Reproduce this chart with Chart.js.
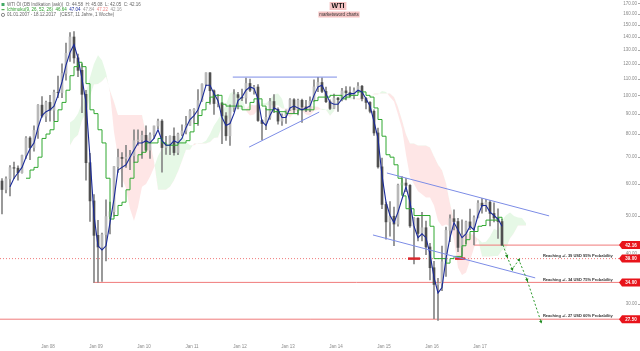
<!DOCTYPE html>
<html>
<head>
<meta charset="utf-8">
<title>WTI</title>
<script src="https://cdn.jsdelivr.net/npm/chart.js@4.4.1/dist/chart.umd.min.js"></script>
<style>
  body { margin: 0; background: #fff; }
  canvas { display: block; }
</style>
</head>
<body>
<canvas id="myChart" width="640" height="351"></canvas>
<script>
// Monthly WTI candles, Jan 2007 .. Jun 2017
const First_Year = 2007;
const OPEN = [
  61.0, 58.1, 61.8, 65.9, 65.7, 64.0, 70.7, 78.2, 74.0, 81.7, 94.5, 88.7,
  96.0, 91.8, 101.8, 101.6, 113.5, 127.4, 140.0, 124.1, 115.5, 100.6, 67.8, 54.4,
  44.6, 41.7, 44.8, 49.7, 51.1, 66.3, 69.9, 69.5, 70.0, 70.6, 77.0, 77.3,
  79.4, 72.9, 79.7, 83.8, 86.2, 74.0, 75.6, 79.0, 71.9, 80.0, 81.4, 84.1,
  91.4, 92.2, 97.0, 106.7, 113.9, 102.7, 95.4, 95.7, 88.8, 79.2, 93.2, 100.4,
  98.8, 98.5, 107.1, 103.0, 104.9, 86.5, 85.0, 88.1, 96.5, 92.2, 86.2, 88.9,
  91.8, 97.5, 92.1, 97.2, 93.5, 92.0, 96.6, 105.0, 107.7, 102.3, 96.4, 92.7,
  98.4, 97.5, 102.6, 101.6, 99.7, 102.7, 105.4, 98.2, 96.0, 91.2, 80.5, 66.2,
  53.3, 48.2, 49.8, 47.6, 59.6, 60.3, 59.5, 47.1, 49.2, 45.1, 46.6, 41.7,
  37.0, 33.6, 33.8, 38.3, 45.9, 49.1, 48.3, 41.6, 44.7, 48.2, 46.9, 49.4,
  53.7, 52.8, 54.0, 50.6, 49.3, 48.3
];
const HIGH = [
  61.9, 62.5, 66.7, 68.1, 66.6, 70.9, 78.8, 78.8, 83.9, 94.8, 99.3, 96.8,
  100.0, 103.1, 111.8, 119.9, 135.1, 143.7, 144.5, 126.8, 120.0, 103.0, 71.6, 56.4,
  48.6, 45.2, 54.7, 54.0, 66.3, 73.4, 71.9, 75.0, 72.8, 82.0, 82.0, 81.4,
  83.9, 80.5, 83.8, 87.2, 87.0, 79.0, 79.2, 82.9, 80.4, 84.4, 88.6, 92.1,
  92.6, 103.4, 106.9, 113.9, 114.0, 103.3, 100.6, 95.9, 90.5, 94.7, 103.4, 101.8,
  103.7, 110.5, 109.9, 106.0, 106.4, 86.9, 92.9, 98.3, 100.4, 93.0, 89.9, 91.8,
  98.2, 98.2, 97.9, 97.8, 97.1, 99.1, 109.3, 111.0, 110.7, 104.9, 97.5, 100.8,
  98.9, 104.2, 105.2, 105.0, 104.5, 107.7, 106.0, 98.8, 96.5, 92.0, 82.8, 69.6,
  54.0, 54.2, 52.5, 59.9, 62.6, 62.0, 59.8, 49.4, 49.4, 50.9, 48.4, 42.6,
  38.4, 34.8, 41.9, 46.8, 50.2, 51.7, 49.2, 48.8, 48.4, 51.9, 49.9, 54.5,
  55.2, 54.9, 54.6, 53.8, 52.0, 48.9
];
const LOW = [
  50.5, 57.0, 56.0, 61.8, 61.3, 63.8, 69.5, 69.0, 72.5, 78.0, 88.0, 85.9,
  86.1, 86.1, 98.7, 98.7, 109.1, 121.6, 120.4, 111.3, 90.5, 61.3, 48.3, 34.0,
  34.0, 34.2, 38.5, 45.0, 49.8, 64.1, 59.0, 66.0, 65.1, 67.9, 75.0, 69.5,
  72.4, 69.5, 78.0, 82.5, 64.2, 71.1, 71.0, 70.8, 71.0, 79.2, 80.0, 84.1,
  85.1, 84.1, 96.5, 105.8, 95.0, 89.6, 93.6, 75.7, 77.1, 74.95, 91.0, 92.5,
  97.0, 95.4, 102.2, 100.7, 86.0, 77.3, 82.0, 87.0, 90.5, 84.7, 84.1, 85.0,
  91.5, 90.0, 89.3, 85.6, 91.0, 91.0, 96.5, 102.2, 101.5, 95.9, 92.1, 92.6,
  91.2, 96.8, 97.4, 98.9, 98.0, 101.7, 96.9, 92.5, 90.4, 79.4, 65.7, 52.0,
  43.6, 44.4, 42.0, 47.0, 56.5, 57.4, 46.7, 37.8, 43.2, 43.2, 39.9, 34.5,
  27.6, 27.3, 32.4, 35.2, 43.0, 46.0, 40.6, 39.2, 42.5, 46.1, 42.2, 49.3,
  50.7, 51.2, 47.1, 48.2, 43.8, 42.05
];
const CLOSE = [
  58.1, 61.8, 65.9, 65.7, 64.0, 70.7, 78.2, 74.0, 81.7, 94.5, 88.7, 96.0,
  91.8, 101.8, 101.6, 113.5, 127.4, 140.0, 124.1, 115.5, 100.6, 67.8, 54.4, 44.6,
  41.7, 44.8, 49.7, 51.1, 66.3, 69.9, 69.5, 70.0, 70.6, 77.0, 77.3, 79.4,
  72.9, 79.7, 83.8, 86.2, 74.0, 75.6, 79.0, 71.9, 80.0, 81.4, 84.1, 91.4,
  92.2, 97.0, 106.7, 113.9, 102.7, 95.4, 95.7, 88.8, 79.2, 93.2, 100.4, 98.8,
  98.5, 107.1, 103.0, 104.9, 86.5, 85.0, 88.1, 96.5, 92.2, 86.2, 88.9, 91.8,
  97.5, 92.1, 97.2, 93.5, 92.0, 96.6, 105.0, 107.7, 102.3, 96.4, 92.7, 98.4,
  97.5, 102.6, 101.6, 99.7, 102.7, 105.4, 98.2, 96.0, 91.2, 80.5, 66.2, 53.3,
  48.2, 49.8, 47.6, 59.6, 60.3, 59.5, 47.1, 49.2, 45.1, 46.6, 41.7, 37.0,
  33.6, 33.8, 38.3, 45.9, 49.1, 48.3, 41.6, 44.7, 48.2, 46.9, 49.4, 53.7,
  52.8, 54.0, 50.6, 49.3, 48.3, 42.16
];

// Ichimoku (9, 26, 52, 26) - blue tenkan from Mar 2007, green kijun from Jul 2007
const TENKAN_START = 2007 + 2 / 12;
const TENKAN = [
  59, 62, 64, 66, 70, 73.5, 76, 83, 89, 91,
  92, 94, 100, 108, 119, 128, 134, 124, 110, 96, 70, 50,
  42, 41, 42, 48, 55, 65, 66, 67, 70, 73, 76, 76,
  77, 76, 78, 82, 77, 75, 75, 77, 76, 78, 83, 87,
  89, 92, 98, 106, 106, 101, 97, 88, 84, 85, 90, 97,
  99, 103, 105, 104, 98, 86, 84, 89, 93, 92, 88, 88,
  93, 94, 93, 92, 93, 94, 100, 105, 106, 101, 96, 95,
  95, 98, 100, 101, 101, 103, 102, 98, 94, 86, 78, 63,
  54, 50, 48, 51, 55, 59, 54, 47, 44, 45, 44, 40,
  35, 32, 33, 39, 44, 48, 46, 44, 45, 47, 46, 50,
  53, 53, 51, 50, 49, 47
];
const KIJUN_START = 2007 + 6 / 12;
const KIJUN = [
  62, 65, 66, 70, 78, 80,
  82, 86, 92, 96, 103, 112, 118, 121, 118, 107, 92, 90,
  82, 76, 62, 49, 50, 53, 54, 58, 62, 68, 71, 72,
  76, 76, 76, 78, 76, 75, 75, 75, 76, 76, 77, 81,
  85, 89, 92, 96, 99, 100, 100, 95, 94, 94, 94, 94,
  92, 92, 96, 98, 98, 94, 92, 92, 91, 91, 91, 90,
  90, 90, 92, 92, 92, 92, 97, 99, 99, 99, 100, 100,
  100, 98, 99, 100, 100, 102, 102, 100, 99, 93, 87, 79,
  71, 70, 67, 62, 56, 52, 52, 50, 50, 50, 50, 47,
  39, 39, 39, 38, 39, 39.5, 39.5, 42, 43.5, 45.6, 45.6, 47,
  47.2, 48.7, 48.7, 48.7, 49.5, 48.6
];
// cloud, Jun 2008 .. Dec 2017
const CLOUD_START = 2008 + 5 / 12;
const SENKOU_A = [
  85.5, 87, 90, 96, 102, 111, 120,
  126, 122.5, 114, 101.5, 81, 70, 62, 58.5, 52, 48.5, 52.5, 59,
  60, 62.5, 66, 70.5, 73.5, 74, 76.5, 76, 77, 80, 76.5, 75,
  75, 76, 76, 77, 80, 84, 87, 90.5, 95, 101, 102.5, 100.5,
  98.5, 91.5, 89, 89.5, 92, 95.5, 95.5, 97.5, 100.5, 101, 98, 90,
  88, 90.5, 92, 91.5, 89.5, 89, 91.5, 92, 92.5, 92, 92.5, 93,
  98.5, 102, 102.5, 100, 98, 97.5, 97.5, 98, 99.5, 100.5, 100.5, 102.5,
  102, 99, 96.5, 89.5, 82.5, 71, 62.5, 60, 57.5, 56.5, 55.5, 55.5,
  53, 48.5, 47, 47.5, 47, 43.5, 37, 35.5, 36, 38.5, 41.5, 43.8,
  42.8, 43, 44.3, 46.3, 45.8, 48.5, 50.1, 50.9, 49.9, 49.4, 49.3, 47.8
];
const SENKOU_B = [
  74.9, 78, 79.5, 86.5, 90.6, 99.4, 106.4,
  106.8, 108.5, 111.3, 102.9, 96.4, 89.3, 89.3, 89.3, 89.3, 89.3, 89.3, 89.3,
  80.4, 77, 68.5, 58, 58, 58, 59, 61.2, 64.5, 68.5, 73.1, 73.1,
  75.7, 75.7, 75.7, 75.7, 76.4, 78.2, 78.4, 83.8, 85.6, 89, 92.4, 92.4,
  92.4, 92.5, 94.9, 94.5, 94.5, 94.5, 94.5, 94.5, 94.5, 94.5, 92.7, 92.7,
  92.7, 92.7, 92.7, 93.9, 93.9, 93.9, 93.9, 93.6, 91.9, 91.9, 88.9, 91.2,
  96.7, 97.6, 97.9, 97.6, 98, 98.3, 98.3, 98.3, 98.3, 101, 101, 101,
  101.1, 101, 99, 93.5, 86.7, 79.9, 75.7, 75.7, 74.9, 74.9, 74.9, 74,
  70.4, 67.1, 64.9, 60.3, 53.7, 48.6, 45.1, 45, 45, 45, 44.7, 43.6,
  39.5, 39.5, 39.5, 39.6, 39.6, 40.9, 41.3, 43.8, 45.2, 47.2, 47.2, 47.2
];

// drawn analysis: trend lines (year, price)
const TREND_TOP = [[2011.85, 111.1], [2014.02, 111.1]];
const TREND_UP = [[2012.19, 74.2], [2013.65, 90.8]];
const CHANNEL_TOP = [[2015.06, 63.9], [2018.44, 49.9]];
const CHANNEL_BOTTOM = [[2014.77, 44.7], [2018.15, 34.9]];
const LOW_MARKS = [[2015.5, 2015.75], [2016.48, 2016.69]];   // short red bars at 39

// horizontal levels with their price tags
const LEVEL_PRICE = [42.16, 39, 34, 27.5];
const LEVEL_FROM = [2016.88, 2007, 2008.94, 2007];
const LEVEL_TAG = ['42.16', '39.00', '34.00', '27.50'];
const LEVEL_END = 2019.92;

// projected path
const PROJ_X = [2017.48, 2017.56, 2017.67, 2017.81, 2017.98, 2018.27];
const PROJ_Y = [42.2, 39.6, 36.7, 38.7, 34.5, 27.1];

const TARGET_PRICE = [39, 34, 27.5];
const TARGET_TEXT = [
  'Reaching +/- 39 USD 95% Probability',
  'Reaching +/- 34 USD 75% Probability',
  'Reaching +/- 27 USD 60% Probability'
];
const TARGET_X = 2018.31;

const X_TICKS = [2008, 2009, 2010, 2011, 2012, 2013, 2014, 2015, 2016, 2017];
const Y_TICKS = [30, 40, 50, 60, 70, 80, 90, 100, 110, 120, 130, 140, 150, 160, 170];


function monthX(start, i) {
    return start + (i + 0.5) / 12;
}

function series(start, values) {
    return values.map((v, i) => ({ x: monthX(start, i), y: v }));
}

function pair(points) {
    return points.map(p => ({ x: p[0], y: p[1] }));
}

const TINY = '4.5px "Liberation Sans", Arial, sans-serif';

// overlays: header, title, price tags, target texts
const overlay = {
    id: 'overlay',
    afterDraw(chart) {
        const ctx = chart.ctx;
        const xs = chart.scales.x;
        const ys = chart.scales.y;
        const right = chart.chartArea.right;
        ctx.save();

        // small tick dashes on the price axis
        ctx.strokeStyle = '#aaa';
        ctx.lineWidth = 1;
        ys.ticks.forEach(t => {
            const py = Math.round(ys.getPixelForValue(t.value)) + 0.5;
            ctx.beginPath();
            ctx.moveTo(right - 2, py);
            ctx.lineTo(right, py);
            ctx.stroke();
        });

        // target texts
        ctx.font = 'bold 4px "Liberation Sans", Arial, sans-serif';
        ctx.fillStyle = '#333';
        ctx.textAlign = 'left';
        ctx.textBaseline = 'bottom';
        TARGET_TEXT.forEach((t, i) => {
            ctx.fillText(t, xs.getPixelForValue(TARGET_X), ys.getPixelForValue(TARGET_PRICE[i]) - 1);
        });

        // red price tags
        LEVEL_PRICE.forEach((p, i) => {
            const py = ys.getPixelForValue(p);
            ctx.fillStyle = '#e8141b';
            ctx.beginPath();
            ctx.moveTo(right - 21, py);
            ctx.lineTo(right - 18, py - 4);
            ctx.lineTo(right, py - 4);
            ctx.lineTo(right, py + 4);
            ctx.lineTo(right - 18, py + 4);
            ctx.closePath();
            ctx.fill();
            ctx.fillStyle = '#fff';
            ctx.font = 'bold ' + TINY;
            ctx.textAlign = 'center';
            ctx.textBaseline = 'middle';
            ctx.fillText(LEVEL_TAG[i], right - 9, py + 0.5);
        });

        // title
        ctx.textAlign = 'center';
        ctx.textBaseline = 'middle';
        ctx.font = 'bold 7px "Liberation Sans", Arial, sans-serif';
        let w = ctx.measureText('WTI').width;
        ctx.fillStyle = '#f6c4c4';
        ctx.fillRect(338 - w / 2 - 2, 2, w + 4, 8);
        ctx.fillStyle = '#111';
        ctx.fillText('WTI', 338, 6.5);
        ctx.font = TINY;
        w = ctx.measureText('marketsword charts').width;
        ctx.fillStyle = '#f6c4c4';
        ctx.fillRect(339 - w / 2 - 1, 11.5, w + 2, 6);
        ctx.fillStyle = '#333';
        ctx.fillText('marketsword charts', 339, 14.7);

        // header lines
        ctx.textAlign = 'left';
        ctx.font = TINY;
        ctx.fillStyle = '#666';
        ctx.fillText('WTI Öl (DB Indikation (ask))  O: 44.58  H: 45.08  L: 42.05  C: 42.16', 7, 4.5);
        let x = 7;
        const parts = [['Ichimoku(9, 26, 52, 26)  46.64', '#2ca02c'], ['47.04', '#1a2a9a'],
                       ['47.84', '#999'], ['47.22', '#e88'], ['42.16', '#999']];
        parts.forEach(p => {
            ctx.fillStyle = p[1];
            ctx.fillText(p[0], x, 9.7);
            x += ctx.measureText(p[0] + '  ').width;
        });
        ctx.fillStyle = '#666';
        ctx.fillText('01.01.2007 - 18.12.2017   (CEST, 11 Jahre, 1 Woche)', 7, 14.9);

        // header icons
        ctx.fillStyle = '#4a6';
        ctx.fillRect(1.5, 3, 3, 3);
        ctx.strokeStyle = '#2ca02c';
        ctx.beginPath();
        ctx.moveTo(1.5, 9.7);
        ctx.lineTo(4.5, 9.7);
        ctx.stroke();
        ctx.strokeStyle = '#888';
        ctx.beginPath();
        ctx.arc(3, 14.9, 1.6, 0, Math.PI * 2);
        ctx.stroke();
        ctx.restore();
    }
};

const datasets = [];

// projection (top)
datasets.push({
    type: 'line',
    data: PROJ_X.map((x, i) => ({ x: x, y: PROJ_Y[i] })),
    borderColor: '#2f9a2f',
    borderWidth: 1,
    borderDash: [2, 2],
    pointStyle: 'triangle',
    pointRadius: [0, 2, 2, 2, 2, 2],
    pointRotation: [0, 163, 159, 38, 160, 161],
    pointBackgroundColor: '#1f8a1f',
    pointBorderWidth: 0,
    order: 1
});

// blue trend lines
[TREND_TOP, TREND_UP, CHANNEL_TOP, CHANNEL_BOTTOM].forEach(l => {
    datasets.push({
        type: 'line',
        data: pair(l),
        borderColor: '#7c8ce6',
        borderWidth: 1,
        pointRadius: 0,
        order: 2
    });
});

// short red bars at the 39 level
LOW_MARKS.forEach(m => {
    datasets.push({
        type: 'line',
        data: [{ x: m[0], y: 39 }, { x: m[1], y: 39 }],
        borderColor: '#d9262b',
        borderWidth: 2.5,
        pointRadius: 0,
        order: 2
    });
});

datasets.push({
    type: 'line',
    data: series(TENKAN_START, TENKAN),
    borderColor: '#1a2a9a',
    borderWidth: 1.1,
    pointRadius: 0,
    tension: 0,
    order: 3
});

datasets.push({
    type: 'line',
    data: series(KIJUN_START, KIJUN),
    borderColor: '#30a830',
    borderWidth: 1,
    pointRadius: 0,
    stepped: true,
    order: 4
});

// candle bodies and wicks
datasets.push({
    type: 'bar',
    data: OPEN.map((o, i) => ({ x: monthX(First_Year, i), y: [o, CLOSE[i]] })),
    backgroundColor: OPEN.map((o, i) => CLOSE[i] >= o ? '#b8b8b8' : '#505050'),
    barThickness: 2,
    grouped: false,
    order: 5
});
datasets.push({
    type: 'bar',
    data: HIGH.map((h, i) => ({ x: monthX(First_Year, i), y: [LOW[i], h] })),
    backgroundColor: '#858585',
    barThickness: 1,
    grouped: false,
    order: 6
});

// red horizontal levels
LEVEL_PRICE.forEach((p, i) => {
    datasets.push({
        type: 'line',
        data: [{ x: LEVEL_FROM[i], y: p }, { x: LEVEL_END, y: p }],
        borderColor: '#f07a7a',
        borderWidth: 1,
        borderDash: i === 1 ? [1, 2] : [],
        pointRadius: 0,
        order: 7
    });
});

// cloud: span A filled against span B
datasets.push({
    type: 'line',
    data: series(CLOUD_START, SENKOU_A),
    borderColor: 'rgba(0,0,0,0)',
    borderWidth: 0,
    pointRadius: 0,
    fill: { target: '+1', above: 'rgba(196,238,196,0.42)', below: 'rgba(252,196,196,0.42)' },
    order: 8
});
datasets.push({
    type: 'line',
    data: series(CLOUD_START, SENKOU_B),
    borderColor: 'rgba(0,0,0,0)',
    borderWidth: 0,
    pointRadius: 0,
    order: 9
});

const ctx = document.getElementById('myChart');

new Chart(ctx, {
    type: 'line',
    data: { datasets: datasets },
    plugins: [overlay],
    options: {
        responsive: false,
        animation: false,
        devicePixelRatio: 1,
        layout: { padding: 0, autoPadding: false },
        plugins: {
            legend: { display: false },
            tooltip: { enabled: false }
        },
        scales: {
            x: {
                type: 'linear',
                bounds: 'data',
                offset: false,
                min: 2007,
                max: 2007 + 640 / 48,
                afterBuildTicks: s => { s.ticks = X_TICKS.map(v => ({ value: v })); },
                afterFit: s => { s.height = 11; },
                grid: { display: false, drawTicks: false, offset: false },
                border: { display: false },
                ticks: {
                    autoSkip: false,
                    maxRotation: 0,
                    padding: 4,
                    color: '#8a8a8a',
                    font: { size: 4.5, family: '"Liberation Sans", Arial' },
                    callback: v => 'Jan ' + String(v).slice(2)
                }
            },
            y: {
                type: 'logarithmic',
                position: 'right',
                bounds: 'data',
                offset: false,
                min: 24.39,
                max: 173.3,
                afterBuildTicks: s => { s.ticks = Y_TICKS.map(v => ({ value: v })); },
                afterFit: s => { s.width = 0; },
                grid: { display: false, drawTicks: false },
                border: { display: false },
                ticks: {
                    autoSkip: false,
                    mirror: true,
                    padding: -3,
                    color: '#8a8a8a',
                    font: { size: 4.5, family: '"Liberation Sans", Arial' },
                    callback: v => Number(v).toFixed(2)
                }
            }
        }
    }
});
</script>
</body>
</html>
